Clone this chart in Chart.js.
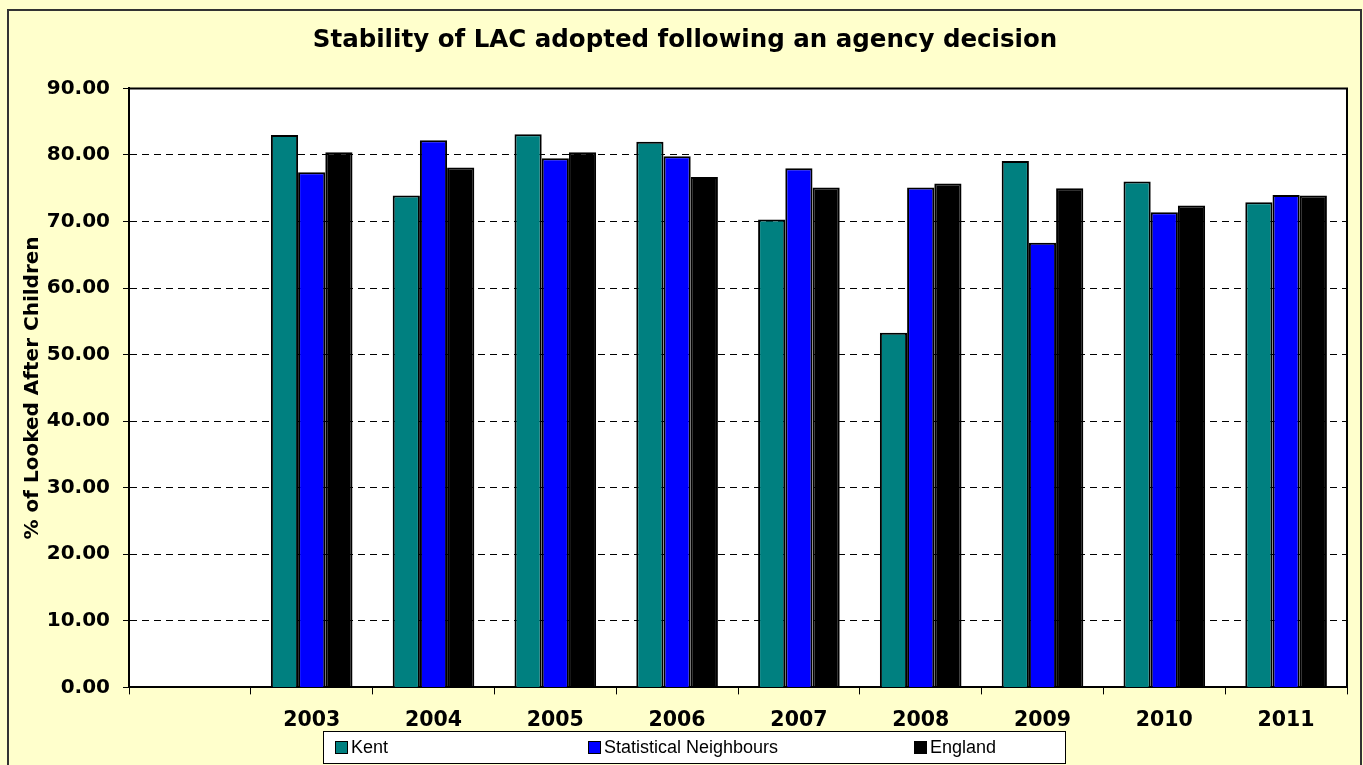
<!DOCTYPE html>
<html>
<head>
<meta charset="utf-8">
<script src="https://cdn.jsdelivr.net/npm/chart.js@4.4.1/dist/chart.umd.min.js"></script>
<style>
  html, body { margin: 0; padding: 0; background: #ffffcc; }
  #wrap { width: 1363px; height: 765px; position: relative; }
</style>
</head>
<body>
<div id="wrap"><canvas id="grafico"></canvas></div>
<script>
// dados
const categorias = ['', '2003', '2004', '2005', '2006', '2007', '2008', '2009', '2010', '2011'];
const kent = [null, 83.0, 73.9, 83.1, 82.0, 70.3, 53.3, 79.1, 76.0, 72.9];
const vizinhos = [null, 77.4, 82.2, 79.5, 79.8, 78.0, 75.1, 66.8, 71.4, 74.0];
const inglaterra = [null, 80.4, 78.1, 80.4, 76.7, 75.1, 75.7, 75.0, 72.4, 73.9];
const nomesSeries = ['Kent', 'Statistical Neighbours', 'England'];
const coresSeries = ['#008080', '#0000ff', '#000000'];

// fundo amarelo, area branca e moldura
const fundo = {
    id: 'fundo',
    beforeDraw(chart) {
        const { ctx, chartArea: a } = chart;
        ctx.save();
        ctx.fillStyle = '#ffffcc';
        ctx.fillRect(0, 0, chart.width, chart.height);
        ctx.strokeStyle = '#333333';
        ctx.lineWidth = 2;
        ctx.strokeRect(8, 10, 1353, 800);
        ctx.fillStyle = '#ffffff';
        ctx.fillRect(a.left, a.top, a.right - a.left, a.bottom - a.top);
        ctx.restore();
    },
    afterDraw(chart) {
        const { ctx, chartArea: a } = chart;
        ctx.save();
        ctx.strokeStyle = '#000000';
        ctx.lineWidth = 2;
        ctx.beginPath();
        ctx.moveTo(a.left, a.top);
        ctx.lineTo(a.right, a.top);
        ctx.lineTo(a.right, a.bottom);
        ctx.stroke();
        ctx.restore();
    }
};

// legenda com caixa, como no excel
const legendaCaixa = {
    id: 'legendaCaixa',
    afterDraw(chart) {
        const { ctx } = chart;
        const xs = [335, 588, 914];
        ctx.save();
        ctx.fillStyle = '#ffffff';
        ctx.fillRect(323, 731, 742, 32);
        ctx.strokeStyle = '#000000';
        ctx.lineWidth = 1;
        ctx.strokeRect(323.5, 731.5, 742, 32);
        ctx.font = '18px "Liberation Sans", Arial, sans-serif';
        ctx.textBaseline = 'middle';
        chart.data.datasets.forEach((ds, i) => {
            ctx.fillStyle = ds.backgroundColor;
            ctx.fillRect(xs[i], 741, 13, 13);
            ctx.strokeStyle = '#000000';
            ctx.strokeRect(xs[i] + 0.5, 741.5, 12, 12);
            ctx.fillStyle = '#000000';
            ctx.fillText(ds.label, xs[i] + 16, 748);
        });
        ctx.restore();
    }
};

Chart.defaults.font.family = '"DejaVu Sans", Verdana, sans-serif';
Chart.defaults.color = '#000000';

const ctx = document.getElementById('grafico');

new Chart(ctx, {
    type: 'bar',
    data: {
        labels: categorias,
        datasets: [
            { label: nomesSeries[0], data: kent, backgroundColor: coresSeries[0] },
            { label: nomesSeries[1], data: vizinhos, backgroundColor: coresSeries[1] },
            { label: nomesSeries[2], data: inglaterra, backgroundColor: coresSeries[2] }
        ]
    },
    options: {
        responsive: true,
        maintainAspectRatio: false,
        animation: false,
        datasets: {
            bar: {
                borderColor: '#000000',
                borderWidth: 2,
                categoryPercentage: 0.67,
                barPercentage: 1
            }
        },
        layout: { padding: { left: 23, right: 16, top: 0, bottom: 18 } },
        plugins: {
            legend: { display: false },
            tooltip: { enabled: false },
            title: {
                display: true,
                text: 'Stability of LAC adopted following an agency decision',
                font: { size: 24.5, weight: 'bold' },
                color: '#000000',
                padding: { top: 26, bottom: 33 }
            }
        },
        scales: {
            x: {
                grid: { drawOnChartArea: false, drawTicks: true, tickLength: 7, tickColor: '#000000', offset: true },
                border: { color: '#000000', width: 2 },
                ticks: { font: { size: 20.5, weight: 'bold' }, padding: 14, maxRotation: 0, autoSkip: false }
            },
            y: {
                min: 0,
                max: 90,
                afterFit: (scale) => { scale.width = 106; },
                grid: { color: '#000000', lineWidth: 1, tickLength: 6, tickColor: '#000000' },
                border: { color: '#000000', width: 2, dash: [7, 5] },
                ticks: {
                    stepSize: 10,
                    padding: 13,
                    font: { size: 20, weight: 'bold' },
                    callback: (v) => v.toFixed(2)
                },
                title: {
                    display: true,
                    text: '% of Looked After Children',
                    font: { size: 20, weight: 'bold', lineHeight: 1 },
                    padding: { top: 0, bottom: 0 }
                }
            }
        }
    },
    plugins: [fundo, legendaCaixa]
});
</script>
</body>
</html>
